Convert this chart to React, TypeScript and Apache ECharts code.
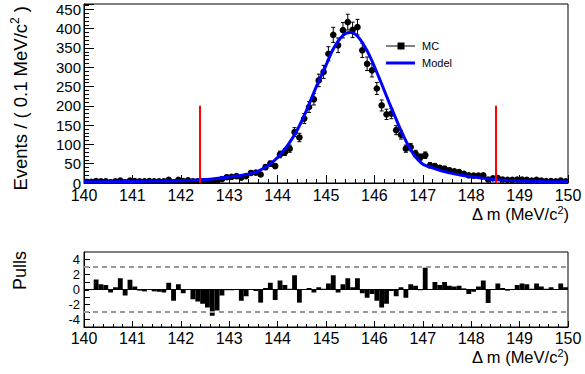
import React, { useEffect, useRef } from 'react';
import * as echarts from 'echarts';

const BIN_LOW = 140;
const BIN_WIDTH = 0.1;

const mcCounts = [
  3, 3, 5, 4, 4, 2, 4, 6, 2, 6,
  5, 4, 4, 5, 4, 4, 4, 8, 2, 8,
  5, 7, 4, 4, 4, 4, 3, 5, 10, 15,
  16, 18, 14, 18, 26, 27, 22, 41, 50, 44,
  74, 80, 89, 132, 118, 167, 197, 217, 266, 288,
  335, 384, 357, 396, 417, 397, 404, 344, 309, 292,
  245, 201, 178, 180, 137, 125, 89, 93, 76, 67,
  72, 46, 44, 39, 37, 33, 30, 28, 24, 20,
  19, 19, 20, 9, 12, 13, 9, 8, 8, 9,
  9, 8, 6, 8, 6, 5, 5, 4, 6, 4,
];

const pulls = [
  -0.2, 0, 1.35, 0.7, 0.6, -0.4, 0.3, 1.5, -0.8, 1.3,
  0.4, -0.15, -0.25, 0, -0.25, -0.3, -0.4, 0.9, -1.5, 0.7,
  -0.5, 0, -1.3, -1.6, -1.9, -2.4, -3.5, -2.8, -0.8, -0.1,
  -0.1, 0, -1.5, -0.9, 0, -0.2, -1.75, 0.2, 0.9, -1.4,
  1.2, 0.6, 0.1, 1.9, -1.75, 0, 0.2, -0.4, 0.3, 0.1,
  0.8, 1.9, -0.4, 0.7, 1.5, 0.3, 1.5, -0.5, -1.1, -0.6,
  -1.5, -2.4, -1.9, -0.2, -0.9, 0.3, -1.1, 0.7, 0.5, -0.1,
  2.9, 0, 1.0, 0.6, 1.0, 0.5, 0.4, 0.5, 0.15, -0.6,
  -0.3, 0.4, 1.2, -1.8, 0, 0.8, 0.2, -0.15, 0, 0.6,
  0.8, 0.7, 0.1, 0.8, 0.4, 0.1, 0.3, 0, 0.8, 0.3,
];

const modelX = [
  140.0, 140.5, 141.0, 141.5, 142.0, 142.5, 142.8, 143.0, 143.2, 143.4,
  143.6, 143.8, 144.0, 144.2, 144.4, 144.6, 144.8, 145.0, 145.1, 145.2,
  145.3, 145.4, 145.5, 145.6, 145.7, 145.8, 145.9, 146.0, 146.1, 146.2,
  146.3, 146.4, 146.5, 146.6, 146.7, 146.8, 146.9, 147.0, 147.2, 147.4,
  147.6, 147.8, 148.0, 148.2, 148.4, 148.6, 148.8, 149.0, 149.5, 150.0,
];
const modelY = [
  3, 3, 4, 5, 6, 9, 13, 16, 19, 23,
  31, 45, 66, 96, 136, 189, 250, 305, 335, 358,
  376, 387, 390, 386, 373, 354, 330, 302, 272, 241,
  210, 180, 150, 122, 97, 76, 60, 49, 39, 31,
  25, 20, 16, 13, 10, 8, 6.5, 5.5, 4, 3,
];

const cutPositions = [142.4, 148.5];
const cutHeight = 200;
const pullBands = [3, -3];

const FONT = 'Liberation Sans, Arial, Helvetica, sans-serif';

export default function App() {
  const ref = useRef<HTMLDivElement>(null);

  useEffect(() => {
    const chart = echarts.init(ref.current!, null, { renderer: 'svg' });

    const binCenters = mcCounts.map((_, i) => +(BIN_LOW + BIN_WIDTH * (i + 0.5)).toFixed(2));
    const mcData = mcCounts.map((v, i) => [binCenters[i], v, Math.sqrt(v)]);
    const pullData = pulls.map((p, i) => [binCenters[i], p]);
    const modelData = modelX.map((x, i) => [x, modelY[i]]);

    const xAxisCommon = {
      type: 'value',
      min: 140,
      max: 150,
      interval: 1,
      axisLine: { show: true, onZero: false, lineStyle: { color: '#000', width: 1 } },
      axisTick: { show: true, inside: true, length: 8, lineStyle: { color: '#000' } },
      minorTick: { show: true, splitNumber: 5, length: 4, lineStyle: { color: '#000' } },
      splitLine: { show: false },
      axisLabel: { color: '#000', fontSize: 16, fontFamily: FONT, margin: 3 },
    };

    const titleRich = {
      a: { fontSize: 16.5, fontFamily: FONT, fill: '#000' },
      s: { fontSize: 11, fontFamily: FONT, fill: '#000', padding: [0, 0, 9, 0] },
    };

    const option: any = {
      animation: false,
      backgroundColor: '#fff',
      grid: [
        { left: 84, right: 17, top: 4, height: 179, show: true, borderColor: '#000', borderWidth: 1, backgroundColor: 'transparent' },
        { left: 84, right: 17, top: 252, height: 75, show: true, borderColor: '#000', borderWidth: 1, backgroundColor: 'transparent' },
      ],
      xAxis: [
        { ...xAxisCommon, gridIndex: 0, axisLabel: { ...xAxisCommon.axisLabel, margin: 4 } },
        { ...xAxisCommon, gridIndex: 1, axisTick: { show: true, inside: true, length: 6, lineStyle: { color: '#000' } }, minorTick: { show: true, splitNumber: 5, length: 3, lineStyle: { color: '#000' } } },
      ],
      yAxis: [
        {
          gridIndex: 0,
          type: 'value',
          min: 0,
          max: 464,
          interval: 50,
          axisLine: { show: true, lineStyle: { color: '#000' } },
          axisTick: { show: true, inside: true, length: 10, lineStyle: { color: '#000' } },
          minorTick: { show: true, splitNumber: 5, length: 5, lineStyle: { color: '#000' } },
          splitLine: { show: false },
          axisLabel: {
            color: '#000', fontSize: 15, fontFamily: FONT, margin: 3,
            formatter: (v: number) => (Math.abs(v % 50) < 1e-6 ? String(v) : ''),
          },
        },
        {
          gridIndex: 1,
          type: 'value',
          min: -5,
          max: 5,
          interval: 1,
          axisLine: { show: true, lineStyle: { color: '#000' } },
          axisTick: { show: true, inside: true, length: 6, lineStyle: { color: '#000' } },
          splitLine: { show: false },
          axisLabel: {
            color: '#000', fontSize: 13, fontFamily: FONT, margin: 4,
            showMinLabel: false, showMaxLabel: false,
            formatter: (v: number) => (Math.round(v) % 2 === 0 ? String(Math.round(v)) : ''),
          },
        },
      ],
      series: [
        {
          type: 'custom',
          name: 'MC',
          xAxisIndex: 0,
          yAxisIndex: 0,
          data: mcData,
          encode: { x: 0, y: 1 },
          z: 2,
          clip: true,
          renderItem: (params: any, api: any) => {
            const x = api.value(0);
            const y = api.value(1);
            const e = api.value(2);
            const c = api.coord([x, y]);
            const t = api.coord([x, y + e]);
            const b = api.coord([x, Math.max(0, y - e)]);
            const st = { stroke: '#000', lineWidth: 1 };
            return {
              type: 'group',
              children: [
                { type: 'line', shape: { x1: t[0], y1: t[1], x2: b[0], y2: b[1] }, style: st },
                { type: 'line', shape: { x1: t[0] - 2, y1: t[1], x2: t[0] + 2, y2: t[1] }, style: st },
                { type: 'line', shape: { x1: b[0] - 2, y1: b[1], x2: b[0] + 2, y2: b[1] }, style: st },
                { type: 'circle', shape: { cx: c[0], cy: c[1], r: 3.3 }, style: { fill: '#000' } },
              ],
            };
          },
          markLine: {
            silent: true,
            symbol: 'none',
            label: { show: false },
            lineStyle: { color: '#ff0000', width: 2, type: 'solid' },
            data: cutPositions.map((p) => [{ coord: [p, 0] }, { coord: [p, cutHeight] }]),
          },
        },
        {
          type: 'line',
          name: 'Model',
          xAxisIndex: 0,
          yAxisIndex: 0,
          data: modelData,
          smooth: 0.3,
          showSymbol: false,
          symbol: 'none',
          z: 3,
          lineStyle: { color: '#0000ff', width: 3 },
        },
        {
          type: 'custom',
          name: 'Pulls',
          xAxisIndex: 1,
          yAxisIndex: 1,
          data: pullData,
          encode: { x: 0, y: 1 },
          clip: true,
          renderItem: (params: any, api: any) => {
            const x = api.value(0);
            const p = api.value(1);
            const l = api.coord([x - BIN_WIDTH / 2, 0]);
            const r = api.coord([x + BIN_WIDTH / 2, p]);
            return {
              type: 'rect',
              shape: { x: l[0], y: Math.min(l[1], r[1]), width: r[0] - l[0], height: Math.abs(r[1] - l[1]) },
              style: { fill: '#000' },
            };
          },
          markLine: {
            silent: true,
            symbol: 'none',
            label: { show: false },
            data: [
              ...pullBands.map((v) => ({ yAxis: v, lineStyle: { color: '#999', width: 2, type: [5, 4] } })),
              { yAxis: 0, lineStyle: { color: '#000', width: 1, type: 'solid' } },
            ],
          },
        },
      ],
      graphic: [
        {
          type: 'text',
          x: 20,
          y: 6,
          rotation: Math.PI / 2,
          style: {
            text: '{a|Events / ( 0.1 MeV/c}{s|2}{a| )}',
            align: 'right',
            verticalAlign: 'middle',
            fill: '#000',
            rich: {
              a: { fontSize: 18.5, fontFamily: FONT, fill: '#000' },
              s: { fontSize: 12, fontFamily: FONT, fill: '#000', padding: [0, 0, 10, 0] },
            },
          },
        },
        {
          type: 'text',
          x: 20,
          y: 251,
          rotation: Math.PI / 2,
          style: { text: 'Pulls', align: 'right', verticalAlign: 'middle', fill: '#000', fontSize: 18, fontFamily: FONT },
        },
        {
          type: 'text',
          x: 569,
          y: 214,
          style: { text: '{a|Δ m (MeV/c}{s|2}{a|)}', align: 'right', verticalAlign: 'middle', fill: '#000', rich: titleRich },
        },
        {
          type: 'text',
          x: 569,
          y: 357,
          style: { text: '{a|Δ m (MeV/c}{s|2}{a|)}', align: 'right', verticalAlign: 'middle', fill: '#000', rich: titleRich },
        },
        { type: 'line', shape: { x1: 386, y1: 46, x2: 415, y2: 46 }, style: { stroke: '#000', lineWidth: 1 } },
        { type: 'rect', shape: { x: 397.5, y: 42.5, width: 7, height: 7 }, style: { fill: '#000' } },
        { type: 'text', x: 422, y: 46, style: { text: 'MC', fontSize: 11, fontFamily: FONT, fill: '#000', verticalAlign: 'middle' } },
        { type: 'line', shape: { x1: 386, y1: 63, x2: 415, y2: 63 }, style: { stroke: '#0000ff', lineWidth: 3 } },
        { type: 'text', x: 422, y: 63, style: { text: 'Model', fontSize: 11, fontFamily: FONT, fill: '#000', verticalAlign: 'middle' } },
      ],
    };

    chart.setOption(option);
    return () => chart.dispose();
  }, []);

  return <div ref={ref} style={{ position: 'absolute', left: 0, top: 0, width: 585, height: 374 }} />;
}
